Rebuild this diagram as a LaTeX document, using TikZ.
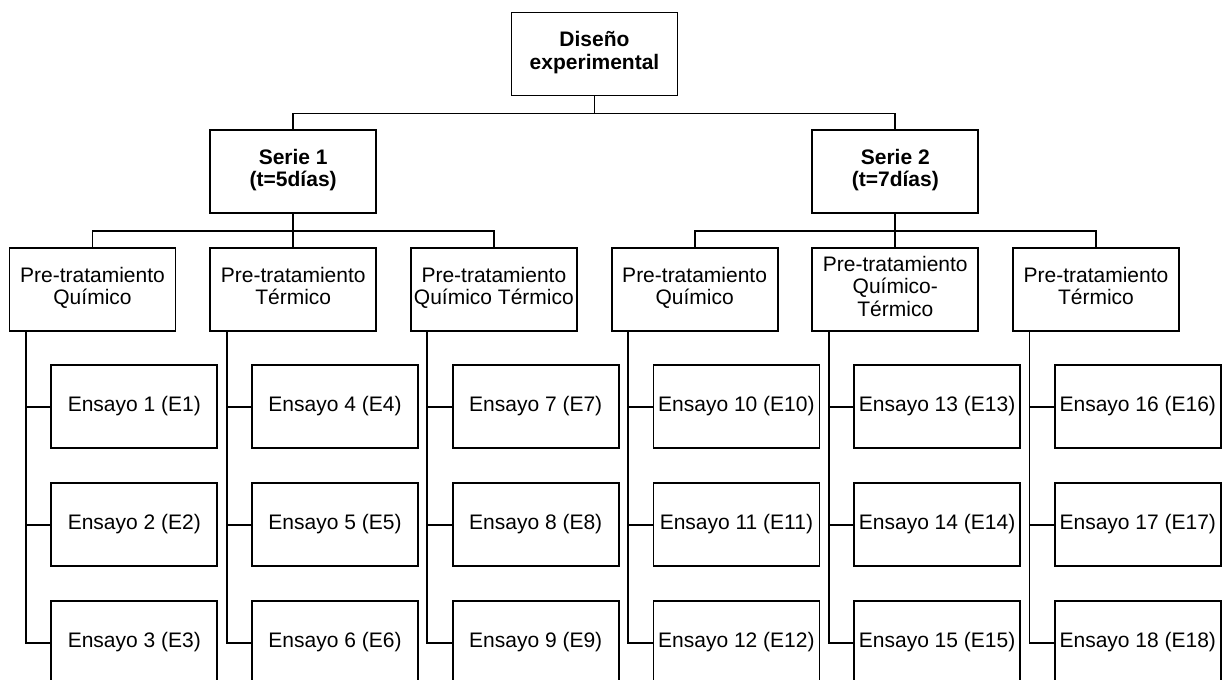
\documentclass[tikz,border=0pt]{standalone}
\usepackage{fontspec}
\setmainfont{Liberation Sans}
\usepackage{tikz}
\usetikzlibrary{positioning}

\tikzset{
    caja/.style={draw, rectangle, line width=1.8pt, minimum width=166pt, minimum height=83pt,
        inner sep=2pt, align=center, font=\fontsize{21}{22.5}\selectfont,
        execute at begin node=\strut, execute at end node=\strut},
    cajanegrita/.style={caja, font=\fontsize{21}{22.5}\selectfont\bfseries},
    linea/.style={line width=1.8pt}
}

\begin{document}
\begin{tikzpicture}[x=1pt, y=-1pt]

    % Rahmen / recorte
    \useasboundingbox (0,0) rectangle (1224,680);
    \clip (0,0) rectangle (1224,680);

    % Diseño
    \node (diseno) at (594.5,54) [cajanegrita] {Diseño\\experimental};

    % Series
    \node (serie1) at (293.2,171.5) [cajanegrita] {Serie 1\\(t=5días)};
    \node (serie2) at (895.3,171.5) [cajanegrita] {Serie 2\\(t=7días)};

    % Pre-tratamientos
    \node (pre1) at (92.5,289.5) [caja] {Pre-tratamiento\\Químico};
    \node (pre2) at (293.2,289.5) [caja] {Pre-tratamiento\\Térmico};
    \node (pre3) at (493.9,289.5) [caja] {Pre-tratamiento\\Químico Térmico};
    \node (pre4) at (694.6,289.5) [caja] {Pre-tratamiento\\Químico};
    \node (pre5) at (895.3,289.5) [caja] {Pre-tratamiento\\Químico-\\Térmico};
    \node (pre6) at (1096,289.5) [caja] {Pre-tratamiento\\Térmico};

    % Ensayos
    \node (ens1) at (134.3,406.7) [caja] {Ensayo 1 (E1)};
    \node (ens2) at (134.3,524.7) [caja] {Ensayo 2 (E2)};
    \node (ens3) at (134.3,642.7) [caja] {Ensayo 3 (E3)};
    \node (ens4) at (335,406.7) [caja] {Ensayo 4 (E4)};
    \node (ens5) at (335,524.7) [caja] {Ensayo 5 (E5)};
    \node (ens6) at (335,642.7) [caja] {Ensayo 6 (E6)};
    \node (ens7) at (535.7,406.7) [caja] {Ensayo 7 (E7)};
    \node (ens8) at (535.7,524.7) [caja] {Ensayo 8 (E8)};
    \node (ens9) at (535.7,642.7) [caja] {Ensayo 9 (E9)};
    \node (ens10) at (736.4,406.7) [caja] {Ensayo 10 (E10)};
    \node (ens11) at (736.4,524.7) [caja] {Ensayo 11 (E11)};
    \node (ens12) at (736.4,642.7) [caja] {Ensayo 12 (E12)};
    \node (ens13) at (937.1,406.7) [caja] {Ensayo 13 (E13)};
    \node (ens14) at (937.1,524.7) [caja] {Ensayo 14 (E14)};
    \node (ens15) at (937.1,642.7) [caja] {Ensayo 15 (E15)};
    \node (ens16) at (1137.8,406.7) [caja] {Ensayo 16 (E16)};
    \node (ens17) at (1137.8,524.7) [caja] {Ensayo 17 (E17)};
    \node (ens18) at (1137.8,642.7) [caja] {Ensayo 18 (E18)};

    % Verbindungen Diseño -> Series
    \draw[linea] (diseno.south) -- ++(0,17) coordinate (nudo0);
    \draw[linea] (serie1.north) |- (nudo0) -| (serie2.north);

    % Series -> Pre-tratamientos
    \draw[linea] (serie1.south) -- ++(0,17) coordinate (nudo1);
    \draw[linea] (pre1.north) |- (nudo1) -| (pre3.north);
    \draw[linea] (nudo1) -- (pre2.north);
    \draw[linea] (serie2.south) -- ++(0,17) coordinate (nudo2);
    \draw[linea] (pre4.north) |- (nudo2) -| (pre6.north);
    \draw[linea] (nudo2) -- (pre5.north);

    % Pre-tratamientos -> Ensayos
    \coordinate (tronco1) at ([xshift=17.3pt]pre1.south west);
    \coordinate (tronco2) at ([xshift=17.3pt]pre2.south west);
    \coordinate (tronco3) at ([xshift=17.3pt]pre3.south west);
    \coordinate (tronco4) at ([xshift=17.3pt]pre4.south west);
    \coordinate (tronco5) at ([xshift=17.3pt]pre5.south west);
    \coordinate (tronco6) at ([xshift=17.3pt]pre6.south west);

    \draw[linea] (tronco1) |- (ens3.west);
    \draw[linea] (ens1.west) -- (ens1.west -| tronco1);
    \draw[linea] (ens2.west) -- (ens2.west -| tronco1);
    \draw[linea] (tronco2) |- (ens6.west);
    \draw[linea] (ens4.west) -- (ens4.west -| tronco2);
    \draw[linea] (ens5.west) -- (ens5.west -| tronco2);
    \draw[linea] (tronco3) |- (ens9.west);
    \draw[linea] (ens7.west) -- (ens7.west -| tronco3);
    \draw[linea] (ens8.west) -- (ens8.west -| tronco3);
    \draw[linea] (tronco4) |- (ens12.west);
    \draw[linea] (ens10.west) -- (ens10.west -| tronco4);
    \draw[linea] (ens11.west) -- (ens11.west -| tronco4);
    \draw[linea] (tronco5) |- (ens15.west);
    \draw[linea] (ens13.west) -- (ens13.west -| tronco5);
    \draw[linea] (ens14.west) -- (ens14.west -| tronco5);
    \draw[linea] (tronco6) |- (ens18.west);
    \draw[linea] (ens16.west) -- (ens16.west -| tronco6);
    \draw[linea] (ens17.west) -- (ens17.west -| tronco6);

\end{tikzpicture}
\end{document}
